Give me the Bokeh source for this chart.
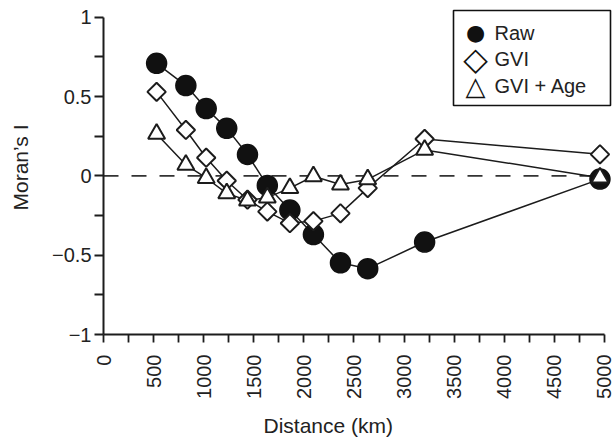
import numpy as np
from bokeh.plotting import figure
from bokeh.models import Range1d, FixedTicker, Label, Title, BoxAnnotation
from bokeh.embed import file_html
from bokeh.resources import INLINE

# ---- data ----
distance = [530, 822, 1025, 1230, 1437, 1635, 1860, 2095, 2365, 2637, 3205, 4955]
raw = [0.71, 0.57, 0.425, 0.30, 0.135, -0.06, -0.215, -0.37, -0.548, -0.585, -0.417, -0.02]
gvi = [0.53, 0.29, 0.115, -0.03, -0.15, -0.225, -0.298, -0.285, -0.236, -0.077, 0.233, 0.136]
gvi_age = [0.265, 0.07, -0.013, -0.11, -0.155, -0.137, -0.077, -0.002, -0.054, -0.022, 0.164, -0.011]
series_names = ["Raw", "GVI", "GVI + Age"]
legend_symbols = ["\u25CF", "\u25C7", "\u25B3"]

x_ticks = [0, 500, 1000, 1500, 2000, 2500, 3000, 3500, 4000, 4500, 5000]
x_minor = [250, 750, 1250, 1750, 2250, 2750, 3250, 3750, 4250, 4750]
y_ticks = [-1, -0.5, 0, 0.5, 1]
y_minor = [-0.75, -0.25, 0.25, 0.75]
y_tick_labels = ["\u22121", "\u22120.5", "0", "0.5", "1"]
x_title = "Distance (km)"
y_title = "Moran\u2019s I"

FONT = "Liberation Sans"
INK = "#1c1c1c"
TEXT = "#222222"

p = figure(width=615, height=447, output_backend="svg", toolbar_location=None,
           x_range=Range1d(0, 5110), y_range=Range1d(-1, 1.10625),
           min_border_left=103, min_border_right=0, min_border_top=0,
           min_border_bottom=110)
p.xgrid.visible = False
p.ygrid.visible = False
p.outline_line_color = None
p.background_fill_color = "white"
p.border_fill_color = "white"

# x axis
xa = p.xaxis[0]
xa.ticker = FixedTicker(ticks=x_ticks, minor_ticks=x_minor)
xa.bounds = (x_ticks[0], x_ticks[-1])
xa.major_label_orientation = np.pi / 2
xa.major_tick_out = 8
xa.major_tick_in = 0
xa.minor_tick_out = 8
xa.minor_tick_in = 0
xa.axis_line_width = 2
xa.axis_line_color = INK
xa.major_tick_line_width = 1.8
xa.minor_tick_line_width = 1.8
xa.major_tick_line_color = INK
xa.minor_tick_line_color = INK
xa.major_label_standoff = 12
xa.major_label_text_font = FONT
xa.major_label_text_font_size = "20px"
xa.major_label_text_color = TEXT
xa.major_label_overrides = {t: str(t) for t in x_ticks}

# y axis
ya = p.yaxis[0]
ya.ticker = FixedTicker(ticks=y_ticks, minor_ticks=y_minor)
ya.bounds = (y_ticks[0], y_ticks[-1])
ya.major_tick_out = 9
ya.major_tick_in = 0
ya.minor_tick_out = 9
ya.minor_tick_in = 0
ya.axis_line_width = 2
ya.axis_line_color = INK
ya.major_tick_line_width = 1.8
ya.minor_tick_line_width = 1.8
ya.major_tick_line_color = INK
ya.minor_tick_line_color = INK
ya.major_label_standoff = 3
ya.major_label_text_font = FONT
ya.major_label_text_font_size = "20px"
ya.major_label_text_color = TEXT
ya.major_label_overrides = {t: lab for t, lab in zip(y_ticks, y_tick_labels)}
ya.axis_label = y_title
ya.axis_label_standoff = 17
ya.axis_label_text_font = FONT
ya.axis_label_text_font_size = "21px"
ya.axis_label_text_font_style = "normal"
ya.axis_label_text_color = TEXT

# x title, placed below the axis and shifted to the reference position
p.add_layout(Title(text=x_title, align="left", offset=160, standoff=21,
                   text_font=FONT, text_font_size="21px",
                   text_font_style="normal", text_color=TEXT), "below")

# zero reference line
p.line(x=[x_ticks[0], x_ticks[-1]], y=[0, 0], line_color="#333333",
       line_width=1.6, line_dash="15 13")

# series lines
for ys in (raw, gvi, gvi_age):
    p.line(distance, ys, line_color=INK, line_width=1.5)

p.scatter(distance, raw, marker="circle", size=20,
          fill_color="#111111", line_color="#111111", line_width=1.5)
p.scatter(distance, gvi, marker="square", size=13, angle=np.pi / 4,
          fill_color="white", line_color=INK, line_width=2)
p.scatter(distance, gvi_age, marker="triangle", size=17,
          fill_color="white", line_color=INK, line_width=2)

# legend key (box, symbols and names), in screen pixels from the frame corner
p.add_layout(BoxAnnotation(left=350, right=507, bottom=229, top=324,
                           left_units="screen", right_units="screen",
                           top_units="screen", bottom_units="screen",
                           fill_color="white", fill_alpha=1.0,
                           line_color="#111111", line_width=1.6, line_alpha=1.0))
row_y = [302, 276, 249]
sym_sizes = ["22px", "32px", "26px"]
for name, sym, yy, fs in zip(series_names, legend_symbols, row_y, sym_sizes):
    p.add_layout(Label(x=372, y=yy, x_units="screen", y_units="screen",
                       text=sym, text_align="center", text_baseline="middle",
                       text_font="DejaVu Sans", text_font_size=fs,
                       text_color="#111111"))
    p.add_layout(Label(x=391, y=yy, x_units="screen", y_units="screen",
                       text=name, text_align="left", text_baseline="middle",
                       text_font=FONT, text_font_size="20px", text_color=TEXT))

open("out.html", "w").write(file_html(p, INLINE))
